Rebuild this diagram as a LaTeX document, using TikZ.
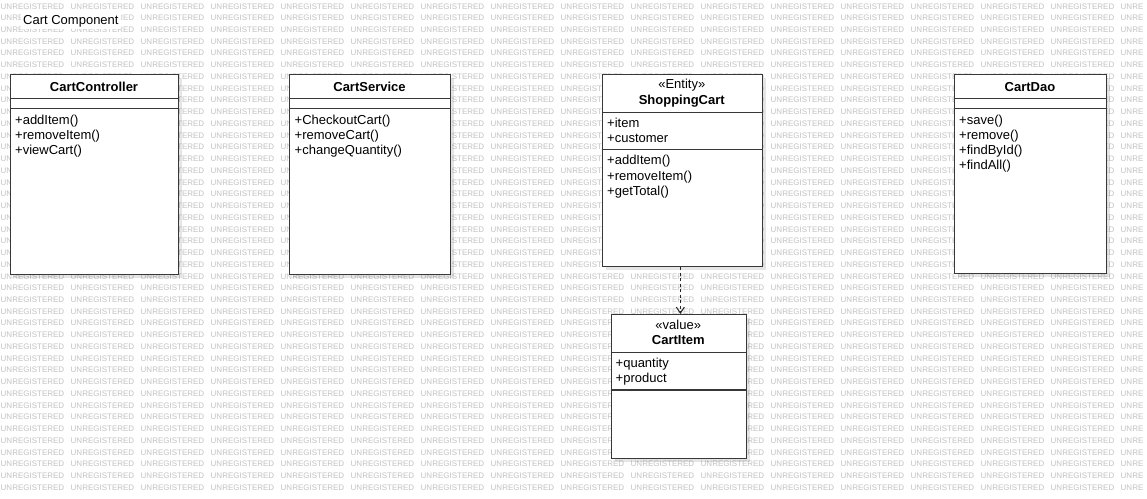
\documentclass[tikz,border=0pt]{standalone}
\usepackage{fontspec}
\setmainfont{Liberation Sans}
\usetikzlibrary{arrows.meta,shadows}
\tikzset{
  wm/.style={font=\fontsize{8}{9}\selectfont, text=black!24, anchor=base west, inner sep=0pt},
  classbox/.style={draw=black!78, line width=1.2pt, fill=white, anchor=north west, inner sep=0pt,
    general shadow={shadow xshift=3.5pt, shadow yshift=-3.5pt, fill=black, opacity=0.10}},
  sepline/.style={draw=black!78, line width=1.2pt},
  mtxt/.style={font=\fontsize{13}{15}\selectfont, anchor=base west, inner sep=0pt},
  ttl/.style={font=\bfseries\fontsize{13}{15}\selectfont, anchor=base, inner sep=0pt},
  stereo/.style={font=\fontsize{13}{15}\selectfont, anchor=base, inner sep=0pt},
  dep/.style={draw=black!85, line width=1pt, dash pattern=on 3pt off 2.5pt,
    -{Straight Barb[length=6pt,width=8pt]}},
  lbl/.style={font=\fontsize{13}{15}\selectfont, anchor=base west, fill=white,
    inner xsep=2pt, inner ysep=2pt}
}
\begin{document}
\begin{tikzpicture}[x=1pt,y=-1pt]
\useasboundingbox (0,0) rectangle (1147,498);
\clip (0,0) rectangle (1147,498);
\fill[white] (0,0) rectangle (1147,498);
% watermark
\foreach \r in {0,...,41}{
  \foreach \c in {0,...,15}{
    \node[wm] (wm-\r-\c) at (\c*70+0.5, 9+\r*11.74) {UNREGISTERED};
  }
  \node[wm] (wm-\r-16) at (1120.5, 9+\r*11.74) {UNRE};
}
% label
\node[lbl] (title) at (21,24.5) {Cart Component};

% CartController
\node[classbox, minimum width=168pt, minimum height=200pt] (cc) at (10,74) {};
\draw[sepline] (10,98.5) -- (178,98.5);
\draw[sepline] (10,108.5) -- (178,108.5);
\node[ttl] (cc-name) at (94,91) {CartController};
\node[mtxt] (cc-m1) at (15,124) {+addItem()};
\node[mtxt] (cc-m2) at (15,139.2) {+removeItem()};
\node[mtxt] (cc-m3) at (15,154.4) {+viewCart()};

% CartService
\node[classbox, minimum width=161pt, minimum height=200pt] (cs) at (289,74) {};
\draw[sepline] (289,98.5) -- (450,98.5);
\draw[sepline] (289,108.5) -- (450,108.5);
\node[ttl] (cs-name) at (369.5,91) {CartService};
\node[mtxt] (cs-m1) at (294.5,124) {+CheckoutCart()};
\node[mtxt] (cs-m2) at (294.5,139.2) {+removeCart()};
\node[mtxt] (cs-m3) at (294.5,154.4) {+changeQuantity()};

% ShoppingCart
\node[classbox, minimum width=160.5pt, minimum height=192pt] (sc) at (601.5,74) {};
\draw[sepline] (601.5,112.3) -- (762,112.3);
\draw[sepline] (601.5,149.7) -- (762,149.7);
\node[stereo] (sc-st) at (681.75,88.3) {«Entity»};
\node[ttl] (sc-name) at (681.75,104.3) {ShoppingCart};
\node[mtxt] (sc-a1) at (607,127) {+item};
\node[mtxt] (sc-a2) at (607,142.2) {+customer};
\node[mtxt] (sc-m1) at (607,164.8) {+addItem()};
\node[mtxt] (sc-m2) at (607,180) {+removeItem()};
\node[mtxt] (sc-m3) at (607,195.2) {+getTotal()};

% CartItem
\node[classbox, minimum width=135.5pt, minimum height=144pt] (ci) at (610.5,314) {};
\draw[sepline] (610.5,352.3) -- (746,352.3);
\draw[sepline] (610.5,390) -- (746,390);
\node[stereo] (ci-st) at (678.25,329) {«value»};
\node[ttl] (ci-name) at (678.25,344.3) {CartItem};
\node[mtxt] (ci-a1) at (615.5,367) {+quantity};
\node[mtxt] (ci-a2) at (615.5,382.2) {+product};

% CartDao
\node[classbox, minimum width=152pt, minimum height=199pt] (cd) at (954,74) {};
\draw[sepline] (954,98.5) -- (1106,98.5);
\draw[sepline] (954,108.5) -- (1106,108.5);
\node[ttl] (cd-name) at (1030,91) {CartDao};
\node[mtxt] (cd-m1) at (959,124) {+save()};
\node[mtxt] (cd-m2) at (959,139.2) {+remove()};
\node[mtxt] (cd-m3) at (959,154.4) {+findById()};
\node[mtxt] (cd-m4) at (959,169.6) {+findAll()};

% dependency
\draw[dep] ([xshift=1.5pt]sc.south -| ci.north) -- ([xshift=1.5pt]ci.north);
\end{tikzpicture}
\end{document}
